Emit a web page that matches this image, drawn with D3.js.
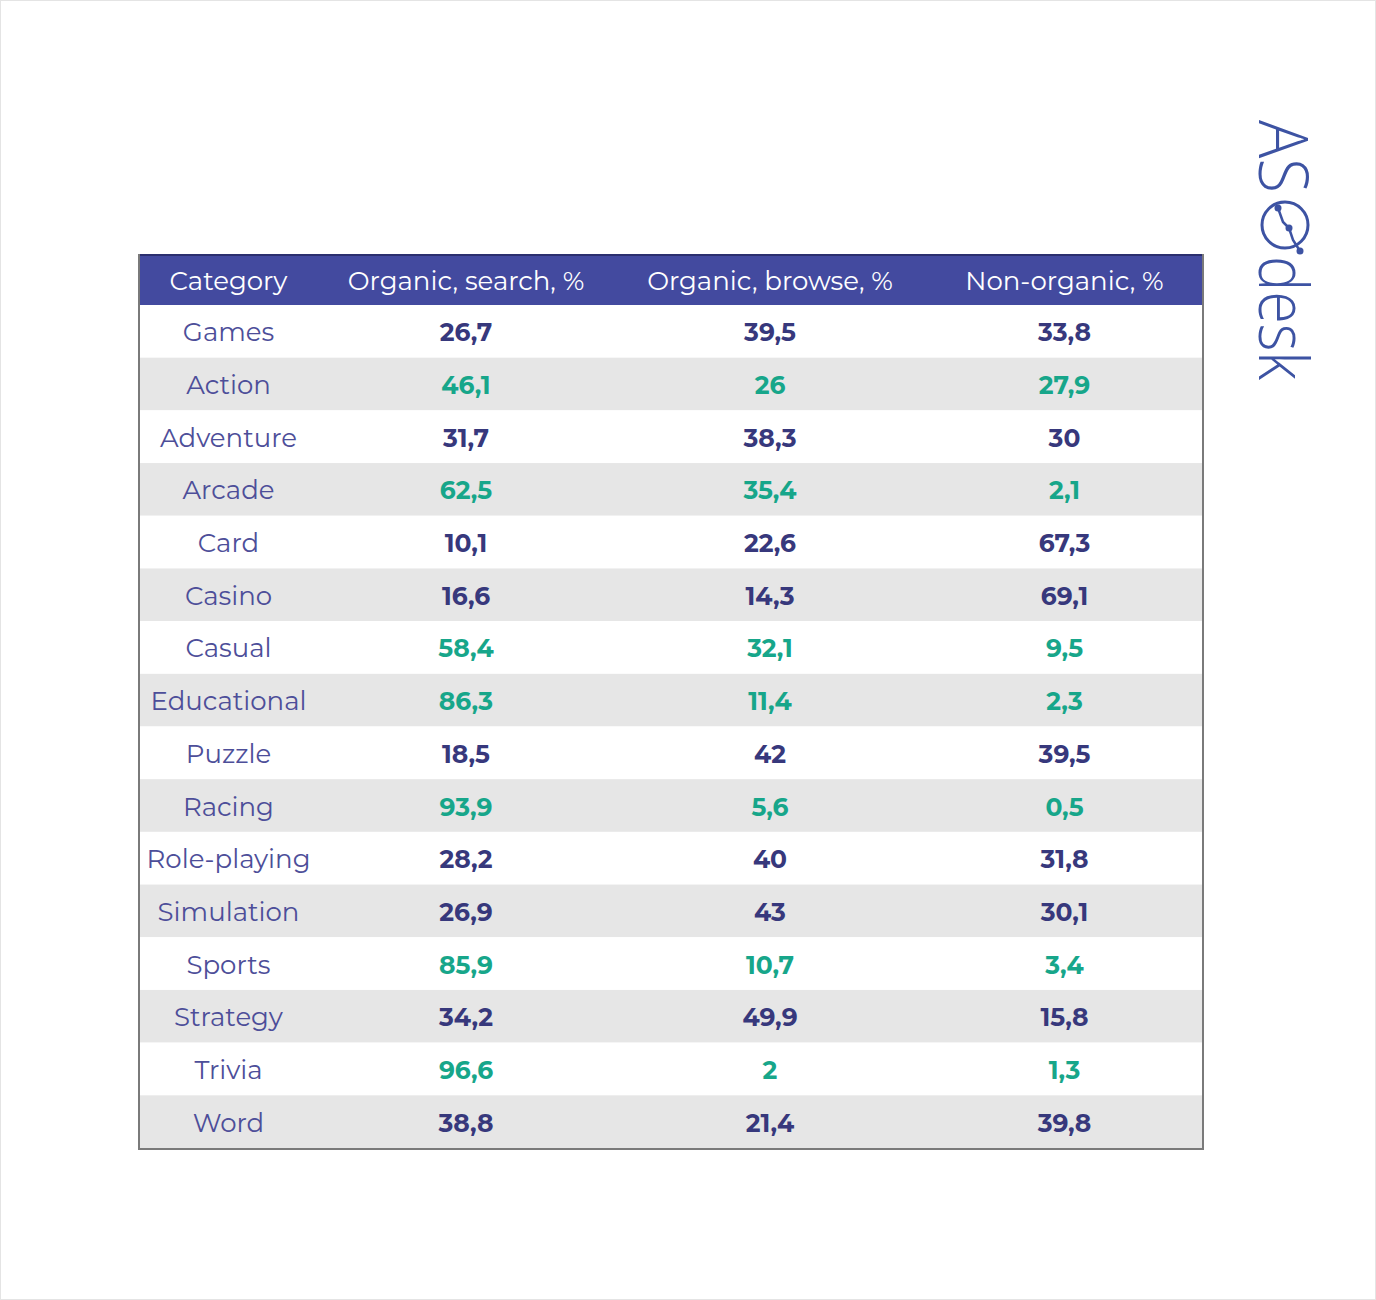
<!DOCTYPE html>
<html>
<head>
<meta charset="utf-8">
<script src="https://cdn.jsdelivr.net/npm/d3@7"></script>
<style>
  html, body { margin: 0; padding: 0; background: #fff; }
  svg { display: block; }
</style>
</head>
<body>
<svg id="chart"></svg>
<script>
// Table data
const columns = ["Category", "Organic, search, %", "Organic, browse, %", "Non-organic, %"];
const categories = ["Games", "Action", "Adventure", "Arcade", "Card", "Casino", "Casual", "Educational",
                    "Puzzle", "Racing", "Role-playing", "Simulation", "Sports", "Strategy", "Trivia", "Word"];
const organicSearch = ["26,7", "46,1", "31,7", "62,5", "10,1", "16,6", "58,4", "86,3",
                       "18,5", "93,9", "28,2", "26,9", "85,9", "34,2", "96,6", "38,8"];
const organicBrowse = ["39,5", "26", "38,3", "35,4", "22,6", "14,3", "32,1", "11,4",
                       "42", "5,6", "40", "43", "10,7", "49,9", "2", "21,4"];
const nonOrganic = ["33,8", "27,9", "30", "2,1", "67,3", "69,1", "9,5", "2,3",
                    "39,5", "0,5", "31,8", "30,1", "3,4", "15,8", "1,3", "39,8"];
// rows drawn in green
const highlighted = ["Action", "Arcade", "Casual", "Educational", "Racing", "Sports", "Trivia"];

const width = 1376, height = 1300;
const fontFamily = "'Montserrat', 'DejaVu Sans', sans-serif";

// table frame
const table = { left: 139, right: 1203, top: 254, headerBottom: 305, bottom: 1148 };
const colEdges = [139, 318, 614, 926, 1203];

const svg = d3.select("#chart")
    .attr("width", width)
    .attr("height", height);

// faint page border
svg.append("rect")
    .attr("x", 0.5).attr("y", 0.5)
    .attr("width", width - 1).attr("height", height - 1)
    .attr("fill", "#fff")
    .attr("stroke", "#e4e4e4");

const y = d3.scaleBand()
    .domain(categories)
    .range([table.headerBottom, table.bottom])
    .padding(0);

const colCenter = i => (colEdges[i] + colEdges[i + 1]) / 2;

// row backgrounds
svg.append("g")
    .selectAll("rect")
    .data(categories)
    .join("rect")
    .attr("x", table.left)
    .attr("y", d => y(d))
    .attr("width", table.right - table.left)
    .attr("height", y.bandwidth())
    .attr("fill", (d, i) => i % 2 ? "#e6e6e6" : "#fff");

// header
svg.append("rect")
    .attr("x", table.left)
    .attr("y", table.top)
    .attr("width", table.right - table.left)
    .attr("height", table.headerBottom - table.top)
    .attr("fill", "#434a9f");
svg.append("line")
    .attr("x1", table.left).attr("x2", table.right)
    .attr("y1", table.top + 1).attr("y2", table.top + 1)
    .attr("stroke", "#2b2f6e")
    .attr("stroke-width", 2);

svg.append("g")
    .selectAll("text")
    .data(columns)
    .join("text")
    .attr("x", (d, i) => colCenter(i))
    .attr("y", (table.top + table.headerBottom) / 2 + 1)
    .attr("text-anchor", "middle")
    .attr("dominant-baseline", "central")
    .attr("fill", "#fff")
    .style("font-family", fontFamily)
    .style("font-size", "26px")
    .text(d => d);

// body cells
const rows = categories.map((c, i) => [c, organicSearch[i], organicBrowse[i], nonOrganic[i]]);

const rowG = svg.append("g")
    .selectAll("g")
    .data(rows)
    .join("g")
    .attr("transform", d => `translate(0,${y(d[0]) + y.bandwidth() / 2 + 1})`);

rowG.selectAll("text")
    .data(d => d.map((v, i) => ({ v, i, hl: highlighted.includes(d[0]) })))
    .join("text")
    .attr("x", d => colCenter(d.i))
    .attr("text-anchor", "middle")
    .attr("dominant-baseline", "central")
    .style("font-family", fontFamily)
    .style("font-size", d => d.i === 0 ? "26px" : "25px")
    .style("font-weight", d => d.i === 0 ? 400 : 700)
    .attr("fill", d => d.i === 0 ? "#4d4e99" : (d.hl ? "#17a68a" : "#37387c"))
    .text(d => d.v);

// outer border (left, right, bottom)
svg.append("path")
    .attr("d", `M${table.left},${table.top} V${table.bottom + 1} H${table.right} V${table.top}`)
    .attr("fill", "none")
    .attr("stroke", "#7a7a7a")
    .attr("stroke-width", 2);

// ASOdesk logo, written top-to-bottom
const logoColor = "#3d53a3";
const logo = svg.append("g")
    .attr("transform", "translate(1259,120) rotate(90)");
logo.append("text")
    .attr("x", 0).attr("y", 0)
    .attr("textLength", 73)
    .attr("lengthAdjust", "spacingAndGlyphs")
    .attr("fill", logoColor)
    .style("font-family", "'Open Sans', sans-serif")
    .style("font-weight", 300)
    .style("font-size", "68px")
    .text("AS");
logo.append("circle")
    .attr("cx", 105).attr("cy", -26)
    .attr("r", 23)
    .attr("fill", "none")
    .attr("stroke", logoColor)
    .attr("stroke-width", 3);
const trend = [[88, -19], [102, -24], [108, -30], [120, -34], [131, -41]];
logo.append("path")
    .attr("d", d3.line()(trend))
    .attr("fill", "none")
    .attr("stroke", logoColor)
    .attr("stroke-width", 2.5);
logo.selectAll(".dot")
    .data([trend[0], trend[2], trend[4]])
    .join("circle")
    .attr("cx", d => d[0]).attr("cy", d => d[1])
    .attr("r", 3.5)
    .attr("fill", logoColor);
logo.append("text")
    .attr("x", 136).attr("y", 0)
    .attr("textLength", 124)
    .attr("lengthAdjust", "spacingAndGlyphs")
    .attr("fill", logoColor)
    .style("font-family", "'Open Sans', sans-serif")
    .style("font-weight", 300)
    .style("font-size", "68px")
    .text("desk");
</script>
</body>
</html>
